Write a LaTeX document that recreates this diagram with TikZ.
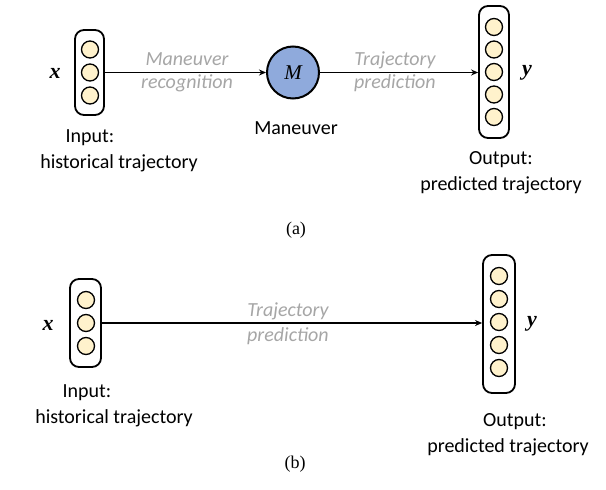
\documentclass[tikz,border=0pt]{standalone}
\usepackage{fontspec}
\setmainfont{Carlito}
\newfontfamily\timesf{Liberation Serif}
\usetikzlibrary{arrows.meta}
\definecolor{unitfill}{HTML}{FFF2CC}
\definecolor{manfill}{HTML}{8FAADC}
\definecolor{graytxt}{HTML}{A6A6A6}
\begin{document}
\begin{tikzpicture}[x=1pt,y=-1pt,
 vbox/.style={draw, line width=1.8pt, rounded corners=9pt, inner sep=0},
 unit/.style={circle, draw, line width=1.3pt, fill=unitfill, minimum size=17pt, inner sep=0},
 conn/.style={-{Stealth[length=7pt,width=6pt]}, line width=1.3pt},
 lbl/.style={font=\fontsize{20}{24}\selectfont, inner sep=0},
 glbl/.style={font=\fontsize{20}{24}\selectfont\itshape, text=graytxt, inner sep=0},
 var/.style={font=\fontsize{22}{24}\selectfont\timesf\bfseries\itshape, inner sep=0},
 capt/.style={font=\fontsize{18}{20}\selectfont\timesf, inner sep=0}]
\useasboundingbox (0,0) rectangle (606,490);
% ---------- (a) ----------
\node[vbox, minimum width=29pt, minimum height=85pt] (inA) at (89.5,72.5) {};
\foreach \i/\yy in {1/49.5,2/72.5,3/95.5} \node[unit] (inA\i) at (90,\yy) {};
\node[var] (xA) at (55,73) {x};
\node[circle, draw, line width=2pt, fill=manfill, minimum size=52pt, inner sep=0, font=\fontsize{21}{24}\selectfont\timesf\itshape] (M) at (293,72.5) {M};
\node[vbox, minimum width=30pt, minimum height=132pt] (outA) at (494,72) {};
\foreach \i/\yy in {1/27,2/49.5,3/72,4/94.5,5/117} \node[unit] (outA\i) at (494,\yy) {};
\node[var] (yA) at (527,73) {y};
\draw[conn] (inA.east |- 0,72.5) coordinate (a1) -- (M.west);
\draw[conn] (M.east) -- (outA.west |- M.east);
\node[glbl] (recA1) at (187,59) {Maneuver};
\node[glbl] (recA2) at (187,83) {recognition};
\node[glbl] (tpA1) at (395,60) {Trajectory};
\node[glbl] (tpA2) at (395,83) {prediction};
\node[lbl] (inAl1) at (90,138) {Input:};
\node[lbl] (inAl2) at (119,163) {historical trajectory};
\node[lbl] (manl) at (296,128) {Maneuver};
\node[lbl] (outAl1) at (501,160) {Output:};
\node[lbl] (outAl2) at (501,185) {predicted trajectory};
\node[capt] (capA) at (296,230) {(a)};
% ---------- (b) ----------
\node[vbox, minimum width=31pt, minimum height=88pt] (inB) at (85.5,323) {};
\foreach \i/\yy in {1/300,2/323,3/346} \node[unit] (inB\i) at (86,\yy) {};
\node[var] (xB) at (48,325) {x};
\node[vbox, minimum width=32pt, minimum height=138pt] (outB) at (499,324) {};
\foreach \i/\yy in {1/276,2/299,3/322,4/345,5/368} \node[unit] (outB\i) at (499,\yy) {};
\node[var] (yB) at (532,324) {y};
\draw[conn] (inB.east |- 0,323) -- (outB.west |- 0,323);
\node[glbl] (tpB1) at (288,311) {Trajectory};
\node[glbl] (tpB2) at (288,336) {prediction};
\node[lbl] (inBl1) at (87,393) {Input:};
\node[lbl] (inBl2) at (114,418) {historical trajectory};
\node[lbl] (outBl1) at (515,422) {Output:};
\node[lbl] (outBl2) at (508,447) {predicted trajectory};
\node[capt] (capB) at (295,464) {(b)};
\end{tikzpicture}
\end{document}
